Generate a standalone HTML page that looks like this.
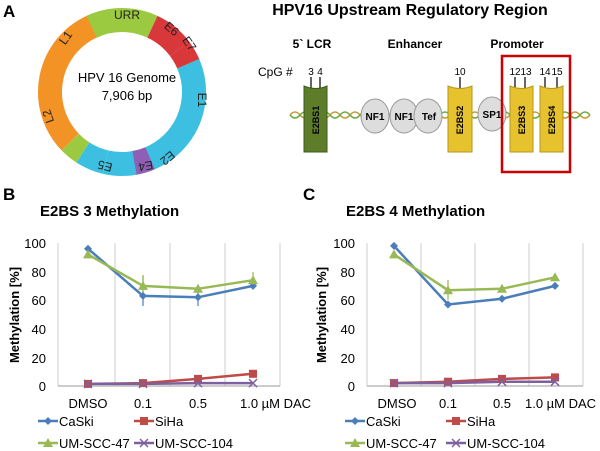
<!DOCTYPE html>
<html><head><meta charset="utf-8"><style>
body{margin:0;background:#fff;}
svg{display:block;font-family:"Liberation Sans",sans-serif;}
.b{font-weight:bold}
</style></head><body>
<svg width="600" height="451" viewBox="0 0 600 451">
<defs>
<g id="dia"><path d="M0,-4 L4,0 0,4 -4,0Z" fill="#4a7ebb"/></g>
<g id="sq"><rect x="-4" y="-4" width="8" height="8" fill="#be4b48"/></g>
<g id="tri"><path d="M0,-5 L5,4 -5,4Z" fill="#98b954"/></g>
<g id="xx"><path d="M-4,-4 L4,4 M4,-4 L-4,4" stroke="#7d60a0" stroke-width="1.5"/></g>
</defs>
<text x="3" y="17" font-size="17" class="b">A</text>
<text x="3" y="200" font-size="17" class="b">B</text>
<text x="303" y="200" font-size="17" class="b">C</text>

<g transform="translate(122,92)" fill="none" stroke-width="24">
<circle r="72" stroke="#f39325" stroke-dasharray="75 1000" transform="rotate(190)"/>
<circle r="72" stroke="#9bc93f" stroke-dasharray="62.8 1000" transform="rotate(-115)"/>
<circle r="72" stroke="#d9383a" stroke-dasharray="35.2 1000" transform="rotate(-65)"/>
<circle r="72" stroke="#d9383a" stroke-dasharray="17.6 1000" transform="rotate(-37)"/>
<circle r="72" stroke="#3cbfe0" stroke-dasharray="85.5 1000" transform="rotate(-23)"/>
<circle r="72" stroke="#3cbfe0" stroke-dasharray="28 1000" transform="rotate(45)"/>
<circle r="72" stroke="#8e5fb5" stroke-dasharray="17 1000" transform="rotate(67)"/>
<circle r="72" stroke="#3cbfe0" stroke-dasharray="28.9 1000" transform="rotate(80)"/>
<circle r="72" stroke="#3cbfe0" stroke-dasharray="25.1 1000" transform="rotate(103)"/>
<circle r="72" stroke="#9bc93f" stroke-dasharray="16.3 1000" transform="rotate(123)"/>
<circle r="72" stroke="#f39325" stroke-dasharray="70 1000" transform="rotate(136)"/>
</g>
<g font-size="12" fill="#222" text-anchor="middle">
<text x="127" y="19">URR</text>
<text x="169" y="32" transform="rotate(40 169 32)">E6</text>
<text x="186" y="46" transform="rotate(55 186 46)">E7</text>
<text x="198" y="100" transform="rotate(90 198 100)">E1</text>
<text x="165" y="155" transform="rotate(140 165 155)">E2</text>
<text x="145" y="162" transform="rotate(170 145 162)">E4</text>
<text x="106" y="162" transform="rotate(195 106 162)">E5</text>
<text x="52" y="115" transform="rotate(250 52 115)">L2</text>
<text x="69" y="40" transform="rotate(-55 69 40)">L1</text>
</g>
<text x="127" y="82" font-size="13" text-anchor="middle">HPV 16 Genome</text>
<text x="127" y="100" font-size="13" text-anchor="middle">7,906 bp</text>

<text x="410" y="15" font-size="16" class="b" text-anchor="middle">HPV16 Upstream Regulatory Region</text>
<g font-size="12" class="b" text-anchor="middle">
<text x="312" y="48">5` LCR</text><text x="415" y="48">Enhancer</text><text x="517" y="48">Promoter</text>
</g>
<text x="258" y="76" font-size="12">CpG #</text>
<g font-size="10" text-anchor="middle">
<text x="311" y="75">3</text><text x="320" y="75">4</text>
<text x="460" y="75">10</text>
<text x="515" y="75">12</text><text x="526" y="75">13</text>
<text x="545" y="75">14</text><text x="557" y="75">15</text>
</g>
<g stroke="#000" stroke-width="1.2">
<line x1="311" y1="77" x2="311" y2="88"/><line x1="320" y1="77" x2="320" y2="88"/>
<line x1="460" y1="77" x2="460" y2="88"/>
<line x1="515" y1="77" x2="515" y2="88"/><line x1="525" y1="77" x2="525" y2="88"/>
<line x1="545" y1="77" x2="545" y2="88"/><line x1="557" y1="77" x2="557" y2="88"/>
</g>
<path d="M290,115 q5,-6 10,0 t10,0 t10,0 t10,0 t10,0 t10,0 t10,0 t10,0 t10,0 t10,0 t10,0 t10,0 t10,0 t10,0 t10,0 t10,0 t10,0 t10,0 t10,0 t10,0 t10,0 t10,0 t10,0 t10,0 t10,0 t10,0 t10,0 t10,0 t10,0 t10,0" stroke="#c93" fill="none" stroke-width="1.5"/>
<path d="M290,115 q5,6 10,0 t10,0 t10,0 t10,0 t10,0 t10,0 t10,0 t10,0 t10,0 t10,0 t10,0 t10,0 t10,0 t10,0 t10,0 t10,0 t10,0 t10,0 t10,0 t10,0 t10,0 t10,0 t10,0 t10,0 t10,0 t10,0 t10,0 t10,0 t10,0 t10,0" stroke="#6a4" fill="none" stroke-width="1.5"/>
<path d="M304,86 q12,5 23,0 v66 h-23z" fill="#5e7d2a" stroke="#3f5a1a"/>
<path d="M448,86 q12,5 24,0 v66 h-24z" fill="#e6c22e" stroke="#b8961a"/>
<path d="M510,86 q12,5 23,0 v66 h-23z" fill="#e6c22e" stroke="#b8961a"/>
<path d="M540,86 q12,5 23,0 v66 h-23z" fill="#e6c22e" stroke="#b8961a"/>
<g font-size="9" class="b">
<text transform="translate(319,120) rotate(-90)" text-anchor="middle">E2BS1</text>
<text transform="translate(463,120) rotate(-90)" text-anchor="middle">E2BS2</text>
<text transform="translate(525,120) rotate(-90)" text-anchor="middle">E2BS3</text>
<text transform="translate(555,120) rotate(-90)" text-anchor="middle">E2BS4</text>
</g>
<g fill="#ddd" stroke="#999">
<ellipse cx="375" cy="116" rx="14" ry="17"/><ellipse cx="404" cy="116" rx="14" ry="17"/>
<ellipse cx="428" cy="116" rx="14" ry="17"/><ellipse cx="492" cy="114" rx="14" ry="17"/>
</g>
<g font-size="10" class="b" text-anchor="middle">
<text x="375" y="120">NF1</text><text x="404" y="120">NF1</text><text x="429" y="120">Tef</text><text x="492" y="118">SP1</text>
</g>
<rect x="502" y="56" width="68" height="116" fill="none" stroke="#c00" stroke-width="2.5"/>

<text x="40" y="216" font-size="15" class="b">E2BS 3 Methylation</text>
<g stroke="#ccc"><line x1="115" y1="243" x2="115" y2="386"/><line x1="170" y1="243" x2="170" y2="386"/><line x1="225" y1="243" x2="225" y2="386"/><line x1="280" y1="243" x2="280" y2="386"/><line x1="58" y1="243" x2="58" y2="386"/></g>
<line x1="58" y1="386" x2="280" y2="386" stroke="#999"/>
<text transform="translate(19,315) rotate(-90)" font-size="13" class="b" text-anchor="middle">Methylation [%]</text>
<g font-size="13" text-anchor="middle"><text x="88" y="408">DMSO</text><text x="143" y="408">0.1</text><text x="198" y="408">0.5</text><text x="240" y="408" text-anchor="start">1.0 µM DAC</text></g>
<g fill="none" stroke-width="2.5">
<polyline points="88,383.9 143,383.1 198,378.9 253,373.8" stroke="#be4b48"/>
<polyline points="88,383.9 143,383.9 198,383.1 253,383.1" stroke="#7d60a0"/>
<polyline points="88,248.7 143,295.9 198,297.3 253,285.9" stroke="#4a7ebb"/>
<polyline points="88,254.4 143,285.9 198,288.8 253,280.2" stroke="#98b954"/>
</g>
<g stroke-width="1.2"><line x1="143" y1="276" x2="143" y2="306" stroke="#4a7ebb"/><line x1="198" y1="286" x2="198" y2="306" stroke="#4a7ebb"/><line x1="143" y1="275" x2="143" y2="295" stroke="#98b954"/><line x1="253" y1="272" x2="253" y2="288" stroke="#98b954"/></g>
<use href="#dia" x="88" y="248.7"/><use href="#dia" x="143" y="295.9"/><use href="#dia" x="198" y="297.3"/><use href="#dia" x="253" y="285.9"/>
<use href="#tri" x="88" y="254.4"/><use href="#tri" x="143" y="285.9"/><use href="#tri" x="198" y="288.8"/><use href="#tri" x="253" y="280.2"/>
<use href="#sq" x="88" y="383.9"/><use href="#sq" x="143" y="383.1"/><use href="#sq" x="198" y="378.9"/><use href="#sq" x="253" y="373.8"/>
<use href="#xx" x="88" y="383.9"/><use href="#xx" x="143" y="383.9"/><use href="#xx" x="198" y="383.1"/><use href="#xx" x="253" y="383.1"/>

<text x="346" y="216" font-size="15" class="b">E2BS 4 Methylation</text>
<g stroke="#ccc"><line x1="421" y1="243" x2="421" y2="386"/><line x1="475" y1="243" x2="475" y2="386"/><line x1="529" y1="243" x2="529" y2="386"/><line x1="583" y1="243" x2="583" y2="386"/><line x1="367" y1="243" x2="367" y2="386"/></g>
<line x1="367" y1="386" x2="583" y2="386" stroke="#999"/>
<text transform="translate(326,315) rotate(-90)" font-size="13" class="b" text-anchor="middle">Methylation [%]</text>
<g font-size="13" text-anchor="middle"><text x="397" y="408">DMSO</text><text x="448" y="408">0.1</text><text x="502" y="408">0.5</text><text x="525" y="408" text-anchor="start">1.0 µM DAC</text></g>
<g fill="none" stroke-width="2.5">
<polyline points="394,383.1 448,381.7 502,378.9 555,377.4" stroke="#be4b48"/>
<polyline points="394,383.1 448,383.1 502,381.7 555,381.7" stroke="#7d60a0"/>
<polyline points="394,245.9 448,304.5 502,298.8 555,285.9" stroke="#4a7ebb"/>
<polyline points="394,254.4 448,290.2 502,288.8 555,277.3" stroke="#98b954"/>
</g>
<line x1="448" y1="280" x2="448" y2="300" stroke="#98b954" stroke-width="1.2"/>
<use href="#dia" x="394" y="245.9"/><use href="#dia" x="448" y="304.5"/><use href="#dia" x="502" y="298.8"/><use href="#dia" x="555" y="285.9"/>
<use href="#tri" x="394" y="254.4"/><use href="#tri" x="448" y="290.2"/><use href="#tri" x="502" y="288.8"/><use href="#tri" x="555" y="277.3"/>
<use href="#sq" x="394" y="383.1"/><use href="#sq" x="448" y="381.7"/><use href="#sq" x="502" y="378.9"/><use href="#sq" x="555" y="377.4"/>
<use href="#xx" x="394" y="383.1"/><use href="#xx" x="448" y="383.1"/><use href="#xx" x="502" y="381.7"/><use href="#xx" x="555" y="381.7"/>

<g font-size="13" text-anchor="end">
<text x="46" y="248">100</text><text x="46" y="277">80</text><text x="46" y="305">60</text><text x="46" y="334">40</text><text x="46" y="363">20</text><text x="46" y="391">0</text>
<text x="355" y="248">100</text><text x="355" y="277">80</text><text x="355" y="305">60</text><text x="355" y="334">40</text><text x="355" y="363">20</text><text x="355" y="391">0</text>
</g>

<g font-size="13">
<g stroke-width="2.5">
<line x1="38" y1="421" x2="58" y2="421" stroke="#4a7ebb"/><line x1="134" y1="421" x2="154" y2="421" stroke="#be4b48"/>
<line x1="38" y1="443" x2="58" y2="443" stroke="#98b954"/><line x1="134" y1="443" x2="154" y2="443" stroke="#7d60a0"/>
<line x1="345" y1="421" x2="365" y2="421" stroke="#4a7ebb"/><line x1="446" y1="421" x2="466" y2="421" stroke="#be4b48"/>
<line x1="345" y1="443" x2="365" y2="443" stroke="#98b954"/><line x1="446" y1="443" x2="466" y2="443" stroke="#7d60a0"/>
</g>
<use href="#dia" x="48" y="421"/><use href="#sq" x="144" y="421"/><use href="#tri" x="48" y="443"/><use href="#xx" x="144" y="443"/>
<use href="#dia" x="355" y="421"/><use href="#sq" x="456" y="421"/><use href="#tri" x="355" y="443"/><use href="#xx" x="456" y="443"/>
<text x="59" y="426">CaSki</text><text x="155" y="426">SiHa</text><text x="59" y="448">UM-SCC-47</text><text x="155" y="448">UM-SCC-104</text>
<text x="366" y="426">CaSki</text><text x="467" y="426">SiHa</text><text x="366" y="448">UM-SCC-47</text><text x="467" y="448">UM-SCC-104</text>
</g>
</svg>
</body></html>
